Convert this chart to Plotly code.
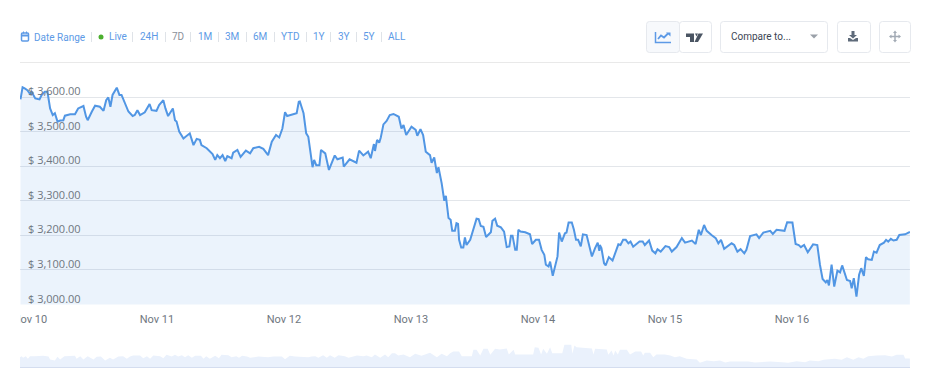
import pandas as pd
import plotly.graph_objects as go

W, H = 933, 383
BASE = pd.Timestamp("2018-11-10")

price_hours = [-1.8,-1.4,-1.0,-0.5,0.0,0.3,1.0,1.8,2.2,2.8,3.3,3.8,4.3,4.7,5.2,5.7,6.3,6.6,7.6,8.5,9.1,10.1,10.6,10.9,11.7,12.3,13.2,13.9,14.4,14.8,15.2,15.6,16.4,16.9,17.3,17.8,18.6,19.4,19.8,20.3,20.8,21.7,22.6,23.0,23.9,24.4,25.2,25.6,26.1,27.0,27.4,27.7,28.2,29.0,30.2,30.9,31.5,32.1,32.4,33.4,34.5,35.0,35.4,35.9,36.4,36.9,37.3,38.1,38.4,39.2,39.8,40.8,41.6,42.2,43.3,44.1,45.0,45.7,46.5,47.1,47.7,48.2,48.6,50.4,50.8,
51.0,51.7,52.2,52.6,53.4,53.7,54.1,54.7,55.0,55.8,56.5,57.0,57.6,58.1,59.1,59.3,60.4,61.7,62.2,63.0,63.9,64.4,65.0,65.2,65.6,66.0,66.3,66.8,67.4,68.0,68.7,69.7,70.2,70.6,71.1,72.1,72.9,73.2,73.8,74.3,74.8,75.6,75.9,76.4,76.9,77.2,77.8,78.3,78.6,79.1,79.5,79.8,80.3,80.6,80.9,81.1,81.5,81.9,82.2,82.5,83.2,84.4,84.8,85.2,85.7,86.2,87.1,87.4,87.9,88.3,89.0,89.6,90.1,90.6,90.9,91.2,91.7,92.0,92.3,92.7,93.6,94.5,94.9,95.6,96.2,96.7,97.2,97.5,98.0,98.3,98.8,99.7,100.0,100.5,101.1,101.4,101.8,102.4,102.8,103.2,103.6,104.1,104.5,105.2,106.2,106.8,107.3,107.6,
107.7,108.0,108.5,108.8,109.4,110.1,111.2,111.6,112.1,112.6,113.1,113.5,114.0,115.2,115.8,116.2,117.0,117.6,118.2,118.6,119.2,120.1,120.8,121.3,122.2,123.2,123.8,125.1,125.8,126.4,126.8,127.4,127.9,128.8,129.6,130.1,130.6,131.2,132.6,133.1,133.7,134.3,135.0,135.4,136.1,137.3,137.8,138.6,139.9,140.4,141.1,142.6,143.1,144.1,144.7,145.3,145.7,146.3,147.0,148.0,148.8,149.3,149.8,150.4,150.7,151.0,151.5,152.0,152.6,153.1,153.5,154.4,155.0,155.3,155.7,156.2,156.7,157.1,157.6,158.0,158.4,159.1,159.5,160.0,160.6,161.4,161.8,162.2,162.7,163.2,163.8,164.3,165.4,166.3]

price_values = [3593,3628,3625,3620,3609,3615,3596,3593,3606,3615,3615,3567,3548,3553,3529,3532,3533,3546,3550,3550,3567,3574,3543,3533,3558,3575,3572,3560,3591,3599,3572,3606,3627,3606,3606,3589,3558,3545,3548,3562,3548,3556,3580,3562,3560,3577,3591,3567,3545,3567,3533,3529,3500,3480,3495,3461,3479,3476,3461,3452,3435,3418,3432,3423,3432,3415,3429,3423,3439,3447,3427,3445,3437,3452,3456,3450,3432,3471,3490,3483,3509,3556,3545,3553,3586,
3587,3553,3495,3485,3397,3418,3403,3403,3447,3437,3389,3410,3431,3420,3425,3399,3420,3410,3445,3431,3442,3423,3464,3444,3476,3468,3483,3521,3531,3548,3551,3543,3509,3519,3490,3514,3505,3488,3507,3490,3442,3432,3410,3425,3380,3397,3351,3300,3314,3250,3245,3213,3213,3235,3233,3187,3165,3165,3194,3172,3187,3248,3247,3227,3225,3195,3209,3242,3248,3228,3223,3211,3166,3168,3199,3199,3158,3158,3216,3211,3209,3203,3175,3187,3187,3158,3144,3115,3110,3124,3083,3139,3208,3182,3206,3208,3237,3237,3216,3187,3187,3168,3203,3201,3139,3163,3179,3155,
3172,3163,3119,3113,3137,3127,3174,3172,3187,3187,3177,3182,3167,3182,3182,3172,3185,3156,3148,3160,3153,3169,3166,3153,3166,3192,3179,3185,3175,3216,3201,3230,3213,3201,3192,3177,3187,3161,3177,3172,3153,3160,3148,3158,3198,3203,3192,3208,3213,3204,3216,3213,3238,3237,3175,3172,3166,3172,3151,3174,3172,3115,3074,3064,3071,3055,3115,3052,3098,3093,3113,3071,3068,3047,3076,3023,3086,3105,3083,3137,3131,3129,3153,3150,3172,3179,3187,3182,3190,3185,3187,3201,3203,3210]

nav_hours = [-1.9,-1.6,-1.3,-0.8,-0.4,0,0.9,2.5,3.5,3.8,4.7,5.2,5.7,6.5,8.5,8.8,9.5,10.1,10.9,12,12.6,13.4,14.2,15.1,15.7,16.7,17.6,18.3,18.9,19.5,20.8,21.4,22.1,22.7,23.3,24.6,25.2,25.8,26.8,27.4,28,28.7,29.3,29.9,30.6,31.2,32.3,32.8,33.3,34,35,35.7,36.2,37.5,38.1,39,39.5,40.1,41,41.6,43.2,45,46,47.6,48.2,49.1,50.1,51.4,52.6,53.2,
53.9,54.5,55.4,56.1,56.7,57.6,58.3,59.5,60.2,61.8,63,63.6,64.6,65.2,66.2,67.1,67.7,68.4,69,69.6,70.6,71.8,72.8,74,75.6,76.9,77.8,78.8,79.4,80,81.1,81.6,83.5,83.8,84.4,85.1,85.7,86.5,87,87.9,88.8,90.1,90.5,91.4,91.7,95.1,95.4,96.1,96.6,97,97.7,98.3,98.7,100.6,101,102.3,102.5,102.9,103.3,106.2,106.5,106.8,109,109.3,109.9,110.3,
110.6,111.1,111.5,112.8,113.4,114.4,115.5,115.9,116.2,117.2,117.8,118.4,120,121,121.9,122.8,124.1,126,126.6,127.9,129.2,130.4,131.4,132.3,135.8,137,139.9,142.1,143.3,144.9,146.5,147.4,149,150,152.1,153.4,154.4,155.6,156.6,157.5,158.4,160,161.6,162.9,163.8,165.1,165.4,166.3]

nav_values = [31,34,29,34,26,34,34,35,33,24,21,32,24,34,35,26,34,24,34,24,32,33,21,29,24,33,34,26,33,36,36,28,34,26,36,34,28,38,33,38,33,37,31,37,29,35,35,26,34,26,35,28,38,37,31,34,29,35,33,29,33,31,33,33,25,35,33,31,31,33,
34,29,37,29,37,29,37,34,29,36,34,36,31,39,29,39,31,43,43,36,39,31,41,35,44,31,41,34,43,48,48,34,34,53,53,36,56,56,38,56,54,57,39,53,39,39,61,59,39,56,41,61,43,43,68,68,41,66,61,57,39,56,54,38,51,36,
51,39,53,53,39,48,48,36,44,44,31,39,39,36,31,34,26,24,14,21,19,21,15,18,18,15,18,16,14,19,16,21,19,23,26,23,31,23,31,26,34,36,37,33,38,38,27,27]

y_ticks = [3000, 3100, 3200, 3300, 3400, 3500, 3600]
y_labels = ["$ 3,000.00", "$ 3,100.00", "$ 3,200.00", "$ 3,300.00", "$ 3,400.00", "$ 3,500.00", "$ 3,600.00"]
day_ticks = ["2018-11-10", "2018-11-11", "2018-11-12", "2018-11-13", "2018-11-14", "2018-11-15", "2018-11-16"]
day_labels = ["Nov 10", "Nov 11", "Nov 12", "Nov 13", "Nov 14", "Nov 15", "Nov 16"]

BLUE = "#5196e4"
FILL = "rgba(74,144,226,0.11)"
NAVFILL = "#eaf1fc"
LINK = "#5d9ae6"
BORDER = "#e6e9ee"
AXIS_TEXT = "#6f7780"


def to_time(hours):
    return BASE + pd.to_timedelta(hours, unit="h")


def px(x):
    return x / W


def py(y):
    return 1 - y / H


x_range = [to_time(-1.89), to_time(166.32)]

fig = go.Figure()
fig.add_trace(go.Scatter(
    x=to_time(pd.Series(price_hours)), y=price_values, mode="lines",
    line=dict(color=BLUE, width=2), fill="tozeroy", fillcolor=FILL,
    hoverinfo="skip", showlegend=False, xaxis="x", yaxis="y"))
fig.add_trace(go.Scatter(
    x=to_time(pd.Series(nav_hours)), y=nav_values, mode="lines",
    line=dict(color=NAVFILL, width=0), fill="tozeroy", fillcolor=NAVFILL,
    hoverinfo="skip", showlegend=False, xaxis="x2", yaxis="y2"))


def rrect(x0, y0, x1, y1, r=3):
    X0, X1 = px(x0), px(x1)
    Y0, Y1 = py(y0), py(y1)
    rx, ry = r / W, r / H
    return (f"M{X0+rx},{Y0} L{X1-rx},{Y0} Q{X1},{Y0} {X1},{Y0-ry} "
            f"L{X1},{Y1+ry} Q{X1},{Y1} {X1-rx},{Y1} L{X0+rx},{Y1} "
            f"Q{X0},{Y1} {X0},{Y1+ry} L{X0},{Y0-ry} Q{X0},{Y0} {X0+rx},{Y0} Z")


def poly(points, close=True):
    s = "M" + " L".join(f"{px(a)},{py(b)}" for a, b in points)
    return s + (" Z" if close else "")


shapes = []


def add_path(path, fill=None, line=None, width=1, layer="above"):
    shapes.append(dict(type="path", xref="paper", yref="paper", path=path,
                       fillcolor=fill or "rgba(0,0,0,0)",
                       line=dict(color=line or "rgba(0,0,0,0)", width=width if line else 0),
                       layer=layer))


def add_line(x0, y0, x1, y1, color, width=1):
    shapes.append(dict(type="line", xref="paper", yref="paper", x0=px(x0), x1=px(x1),
                       y0=py(y0), y1=py(y1), line=dict(color=color, width=width)))


# mask that clips the first date label at the left plot edge
shapes.append(dict(type="rect", xref="paper", yref="paper", x0=0, x1=px(20),
                   y0=py(330), y1=py(308), fillcolor="white", line=dict(width=0), layer="above"))

# separator under the toolbar
add_line(20, 62.5, 910, 62.5, "#e9e9e9")

# toolbar separators
for sx in [91, 132, 165, 190, 218, 246, 274, 306, 330, 356, 381]:
    add_line(sx + 0.5, 32, sx + 0.5, 42, "#dfe3e8")

# calendar icon
add_path(rrect(21.5, 33, 28.5, 41, 1), fill="rgba(0,0,0,0)", line=LINK, width=1.5)
add_line(21.5, 35.5, 28.5, 35.5, LINK, 2)
add_line(23.5, 31.5, 23.5, 33.5, LINK, 1)
add_line(26.5, 31.5, 26.5, 33.5, LINK, 1)

# live dot
shapes.append(dict(type="circle", xref="paper", yref="paper", x0=px(98.5), x1=px(103.5),
                   y0=py(39.5), y1=py(34.5), fillcolor="#4caf2f", line=dict(width=0)))

# right-hand buttons
add_path(rrect(646.5, 21.5, 679.5, 52.5), fill="#f7f9fc", line=BORDER)
add_path(rrect(679.5, 21.5, 711.5, 52.5), fill="#ffffff", line=BORDER)
add_path(rrect(720.5, 21.5, 827.5, 52.5), fill="#ffffff", line=BORDER)
add_path(rrect(837.5, 21.5, 870.5, 52.5), fill="#ffffff", line=BORDER)
add_path(rrect(879.5, 21.5, 910.5, 52.5), fill="#ffffff", line=BORDER)

# line-chart icon
add_path(poly([(655.5, 32), (655.5, 42.5), (671, 42.5)], close=False), line=LINK, width=1.5)
add_path(poly([(658, 39), (661, 35.5), (664, 37.5), (668, 33.5)], close=False), line=LINK, width=1.8)
add_path(poly([(666, 32.5), (670.5, 32.5), (670.5, 36.5)]), fill=LINK)

# TradingView-style icon
add_path(poly([(686, 33.5), (694, 33.5), (694, 42), (690, 42), (690, 37), (686, 37)]), fill="#4b5563")
add_path(poly([(695, 33.5), (698, 33.5), (696.5, 36.5)]), fill="#4b5563")
add_path(poly([(698.5, 33.5), (703, 33.5), (698, 42), (694.5, 42)]), fill="#4b5563")

# caret
add_path(poly([(810, 34.5), (818, 34.5), (814, 38.5)]), fill="#9aa0a8")

# download icon
add_path(poly([(851.5, 31), (854.5, 31), (854.5, 35), (857, 35), (853, 38.5), (849, 35), (851.5, 35)]), fill="#5f6b7a")
add_path(poly([(848, 38), (850, 38), (853, 40), (856, 38), (858, 38), (858, 41.5), (848, 41.5)]), fill="#5f6b7a")

# move icon
add_line(895, 32, 895, 41, "#a3abb5", 1.5)
add_line(890.5, 36.5, 899.5, 36.5, "#a3abb5", 1.5)
add_path(poly([(893, 33), (897, 33), (895, 30.5)]), fill="#a3abb5")
add_path(poly([(893, 40), (897, 40), (895, 42.5)]), fill="#a3abb5")
add_path(poly([(891.5, 34.5), (891.5, 38.5), (889, 36.5)]), fill="#a3abb5")
add_path(poly([(898.5, 34.5), (898.5, 38.5), (901, 36.5)]), fill="#a3abb5")

annotations = []


def add_text(text, cx, cy, color=LINK, size=10, anchor="center"):
    annotations.append(dict(text=text, xref="paper", yref="paper", x=px(cx), y=py(cy),
                            xanchor=anchor, yanchor="middle", showarrow=False,
                            font=dict(family="Roboto", size=size, color=color)))


add_text("Date Range", 60, 37)
add_text("Live", 117.5, 36.5)
for label, cx, color in [("24H", 148.5, LINK), ("7D", 177.5, "#8a9099"), ("1M", 204.5, LINK),
                         ("3M", 232, LINK), ("6M", 260, LINK), ("YTD", 290, LINK),
                         ("1Y", 318.5, LINK), ("3Y", 343.5, LINK), ("5Y", 368.5, LINK),
                         ("ALL", 396.5, LINK)]:
    add_text(label, cx, 36.5, color=color)
add_text("Compare to...", 729, 36.5, color="#3c4654", size=10, anchor="left")

# price-axis labels sit just above their gridlines, inside the plot
for value, label in zip(y_ticks, y_labels):
    annotations.append(dict(text=label, xref="paper", yref="y", x=px(27), y=value,
                            xanchor="left", yanchor="bottom", yshift=-2, showarrow=False,
                            borderpad=0,
                            font=dict(family="Open Sans", size=11, color=AXIS_TEXT)))

fig.update_layout(
    width=W, height=H, autosize=False,
    margin=dict(l=0, r=0, t=0, b=0, autoexpand=False),
    paper_bgcolor="white", plot_bgcolor="white",
    showlegend=False,
    shapes=shapes, annotations=annotations,
    xaxis=dict(domain=[px(20), px(910)], range=x_range, type="date", automargin=False,
               tickmode="array", tickvals=day_ticks, ticktext=day_labels,
               showgrid=False, zeroline=False, showline=False, ticks="",
               tickfont=dict(family="Roboto", size=11, color=AXIS_TEXT),
               ticklabelstandoff=6),
    yaxis=dict(domain=[py(304.5), py(83.2)], range=[3000, 3640], automargin=False,
               tickmode="array", tickvals=y_ticks, showticklabels=False,
               showgrid=True, gridcolor="#e3e6ea", gridwidth=1, zeroline=False,
               ticks="", showline=False),
    xaxis2=dict(domain=[px(20), px(910)], range=x_range, type="date", anchor="y2", automargin=False,
                showticklabels=False, showgrid=False, zeroline=False,
                showline=False, ticks=""),
    yaxis2=dict(domain=[py(367.5), py(342.5)], range=[0, 75], anchor="x2", automargin=False,
                showticklabels=False, showgrid=False, zeroline=True,
                zerolinecolor="#ccd6eb", zerolinewidth=1, showline=False, ticks=""),
)

fig.write_html("out.html", config=dict(displayModeBar=False),
               post_script="document.body.style.margin='0';document.body.style.overflow='hidden';")
